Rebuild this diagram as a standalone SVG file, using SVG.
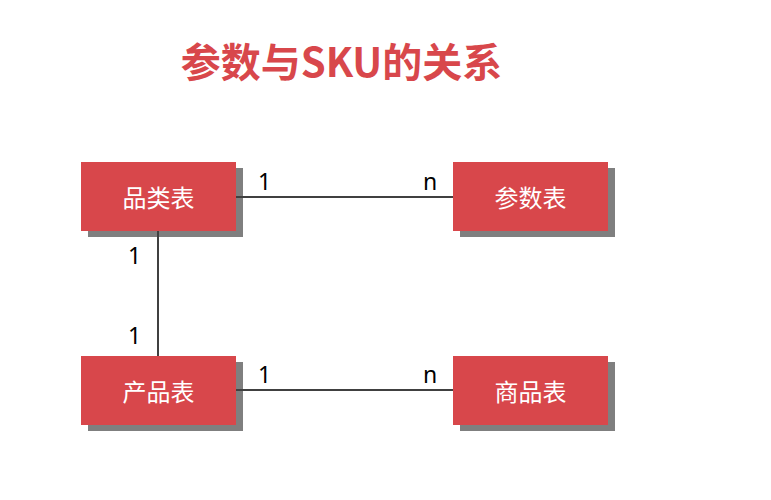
<svg xmlns="http://www.w3.org/2000/svg" width="771" height="500" viewBox="0 0 771 500">
<style>
.box{fill:#d8474b}
.shadow{fill:#7f7f7f}
.lbl{font-family:"Noto Sans CJK SC","Noto Sans",sans-serif;font-size:24px;fill:#ffffff;text-anchor:middle;dominant-baseline:central}
.card{font-family:"Noto Sans","DejaVu Sans",sans-serif;font-size:23px;fill:#000000}
.line{stroke:#404040;stroke-width:2;fill:none}
</style>
<rect width="771" height="500" fill="#ffffff"/>
<text x="341.5" y="77" font-family="'Noto Sans CJK SC','Noto Sans',sans-serif" font-weight="bold" font-size="40" fill="#d8474b" text-anchor="middle">参数与SKU的关系</text>
<g id="node-pinlei">
<rect class="shadow" x="88" y="168" width="155" height="69"/>
<rect class="box" x="81" y="162" width="155" height="69"/>
<text class="lbl" x="158.5" y="196.5">品类表</text>
</g>
<g id="node-canshu">
<rect class="shadow" x="460" y="168" width="155" height="69"/>
<rect class="box" x="453" y="162" width="155" height="69"/>
<text class="lbl" x="530.5" y="196.5">参数表</text>
</g>
<g id="node-chanpin">
<rect class="shadow" x="88" y="362" width="155" height="69"/>
<rect class="box" x="81" y="356" width="155" height="69"/>
<text class="lbl" x="158.5" y="390.5">产品表</text>
</g>
<g id="node-shangpin">
<rect class="shadow" x="460" y="362" width="155" height="69"/>
<rect class="box" x="453" y="356" width="155" height="69"/>
<text class="lbl" x="530.5" y="390.5">商品表</text>
</g>
<g id="connectors">
<line class="line" x1="236" y1="197" x2="453" y2="197"/>
<line class="line" x1="236" y1="390" x2="453" y2="390"/>
<line class="line" x1="158" y1="231" x2="158" y2="356"/>
<text class="card" x="258" y="190">1</text>
<text class="card" x="423" y="190">n</text>
<text class="card" x="128" y="264">1</text>
<text class="card" x="128" y="344">1</text>
<text class="card" x="258" y="383">1</text>
<text class="card" x="423" y="383">n</text>
</g>
</svg>
